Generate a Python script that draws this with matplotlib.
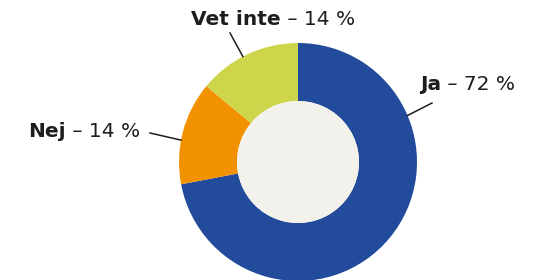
import numpy as np
import matplotlib
matplotlib.use("Agg")
import matplotlib.pyplot as plt

categories = ["Ja", "Nej", "Vet inte"]
values = [72, 14, 14]
value_labels = ["72 %", "14 %", "14 %"]
colors = ["#224b9b", "#f39200", "#ced54a"]

W, H = 560, 280
fig = plt.figure(figsize=(W / 100, H / 100), dpi=100)
ax = fig.add_axes([0, 0, 1, 1])
ax.set_xlim(0, W)
ax.set_ylim(0, H)
ax.set_aspect("equal")
ax.axis("off")

cx, cy = 298, 118
R, r_in = 119, 61
ax.pie(values, colors=colors, startangle=90, counterclock=False,
       radius=R, center=(cx, cy),
       wedgeprops=dict(width=R - r_in, linewidth=0))
ax.add_patch(plt.Circle((cx, cy), r_in, color="#f2f1ec", lw=0, zorder=3))
ax.set_xlim(0, W)
ax.set_ylim(0, H)

# label layout: (leader angle on ring, leader end, split x, baseline y)
layout = {
    "Ja": (23, (432, 177), 441, 190),
    "Nej": (169.4, (150, 147), 66, 143),
    "Vet inte": (117.6, (230, 247), 281, 255),
}
fam = ["DejaVu Sans"]
tc = "#1d1d1b"
for cat, lab in zip(categories, value_labels):
    ang, end, sx, by = layout[cat]
    a = np.deg2rad(ang)
    p = (cx + R * np.cos(a), cy + R * np.sin(a))
    ax.plot([p[0], end[0]], [p[1], end[1]], color=tc, lw=1.1, zorder=4)
    ax.text(sx, by, cat, ha="right", va="baseline", fontsize=14.5,
            fontweight="bold", color=tc, family=fam)
    ax.text(sx, by, " \u2013 " + lab, ha="left", va="baseline", fontsize=14.5,
            fontweight="normal", color=tc, family=fam)

fig.savefig("out.png", dpi=100)
